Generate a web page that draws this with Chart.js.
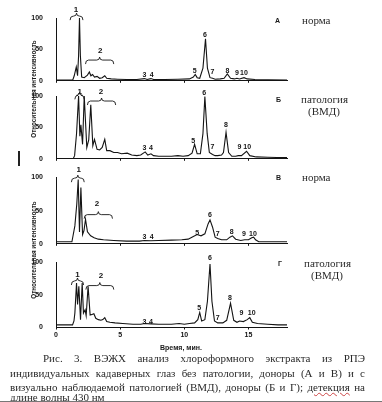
<!DOCTYPE html>
<html><head><meta charset="utf-8">
<script src="https://cdn.jsdelivr.net/npm/chart.js@4.4.1/dist/chart.umd.min.js"></script>
<style>
html,body{margin:0;padding:0;background:#fff;}
body{width:382px;height:402px;position:relative;overflow:hidden;font-family:Arial,"Liberation Sans",sans-serif;color:#1a1a1a;}
.cv{position:absolute;left:20px;}
.t{position:absolute;white-space:nowrap;}
.lbl{font:bold 7px Arial,"Liberation Sans",sans-serif;}
.ser{font-family:"Liberation Serif","Times New Roman",serif;font-size:11px;color:#2a2a2a;}
.ytitle{position:absolute;width:130px;height:8px;line-height:8px;text-align:center;font:bold 6.3px Arial,"Liberation Sans",sans-serif;transform:rotate(-90deg);white-space:nowrap;}
.cap{position:absolute;height:14px;line-height:14px;font-family:"Liberation Serif","Times New Roman",serif;font-size:11px;color:#2a2a2a;text-align:justify;text-align-last:justify;white-space:nowrap;}
</style></head>
<body>
<canvas id="cA" class="cv" width="272" height="90" style="top:0px"></canvas>
<canvas id="cB" class="cv" width="272" height="86" style="top:82px"></canvas>
<canvas id="cV" class="cv" width="272" height="89" style="top:164px"></canvas>
<canvas id="cG" class="cv" width="272" height="96" style="top:248px"></canvas>

<div class="ytitle" style="left:-31px;top:85px;">Относительная интенсивность</div>
<div class="ytitle" style="left:-31px;top:246px;">Относительная интенсивность</div>
<div style="position:absolute;left:18px;top:151px;width:2px;height:15px;background:#222;"></div>

<div class="t lbl" style="left:275px;top:17px;">А</div>
<div class="t ser" style="left:302px;top:14px;">норма</div>
<div class="t lbl" style="left:276px;top:96px;">Б</div>
<div class="t ser" style="left:301px;top:93px;">патология</div>
<div class="t ser" style="left:308px;top:105px;">(ВМД)</div>
<div class="t lbl" style="left:276px;top:174px;">В</div>
<div class="t ser" style="left:302px;top:171px;">норма</div>
<div class="t lbl" style="left:278px;top:260px;">Г</div>
<div class="t ser" style="left:304px;top:257px;">патология</div>
<div class="t ser" style="left:311px;top:269px;">(ВМД)</div>

<div class="t" style="left:160px;top:344px;font:bold 7px Arial,'Liberation Sans',sans-serif;">Время, мин.</div>

<div class="cap" style="left:43px;width:322px;top:351px;">Рис.  3.  ВЭЖХ  анализ  хлороформного  экстракта  из  РПЭ</div>
<div class="cap" style="left:10px;width:355px;top:365.5px;">индивидуальных кадаверных глаз без патологии, доноры (А и В) и с</div>
<div class="cap" style="left:10px;width:355px;top:379.5px;">визуально наблюдаемой патологией (ВМД), доноры (Б и Г); <span style="text-decoration:underline wavy #c44;text-decoration-thickness:1px;">детекция</span> на</div>
<div class="cap" style="left:10px;top:389.5px;text-align:left;text-align-last:left;">длине волны 430 нм</div>
<div style="position:absolute;left:0;top:401px;width:382px;height:1px;background:#777;"></div>

<script>
// ---------- data (time in min, relative intensity) ----------
const yTicks = [0, 50, 100];
const xTicks = [0, 5, 10, 15];

const timeA = [0,1.3,1.42,1.58,1.68,1.76,1.83,1.9,2.0,2.2,2.45,2.6,2.72,2.85,3.0,3.2,3.4,3.6,3.8,3.95,4.3,4.8,5.5,6.3,6.9,7.1,7.4,7.6,8.5,9.5,10.4,10.7,10.85,11.0,11.2,11.45,11.65,11.8,12.0,12.2,12.4,12.8,13.1,13.35,13.6,13.9,14.1,14.3,14.65,14.9,15.5,16.5,18];
const intensityA = [1,1,8,22,8,40,100,40,6,5,9,14,8,10,6,7,4,5,8,4,3,2.5,2,2,3.5,2,3.5,2,2,2.5,3,6,10,5,4,20,67,20,5,4,2.5,3,4,11,4,3,4,3,5,3,2,1.5,1];

const timeB = [0,1.35,1.45,1.6,1.76,1.86,1.94,2.07,2.2,2.4,2.55,2.71,2.87,3.0,3.2,3.4,3.6,3.8,3.95,4.2,4.5,4.8,5.1,5.55,5.9,6.3,6.6,6.95,7.15,7.4,7.6,8.0,8.6,9.0,9.5,9.9,10.3,10.6,10.8,11.0,11.25,11.45,11.6,11.78,11.95,12.2,12.4,12.6,12.9,13.05,13.25,13.45,13.7,14.0,14.2,14.45,14.85,15.1,15.6,16.5,17.2,18];
const intensityB = [0.5,0.5,5,40,100,36,54,23,100,18,30,86,21,31,15,14,18,31,13,13,10,10,8,9,6,5,6,11,6,8,5,4,4,4,5,4,5,9,23,8,8,40,99,40,10,7,5,5,6,10,42,10,4,4,5,5,12,5,3,2.5,2,2];

const timeV = [0,1.24,1.47,1.62,1.73,1.83,1.94,2.07,2.18,2.3,2.45,2.7,2.97,3.3,3.7,4.5,5.5,6.5,6.9,7.4,8,9,9.8,10.3,10.7,11.0,11.3,11.6,11.85,12.0,12.2,12.4,12.6,12.9,13.3,13.55,13.75,14.0,14.4,14.7,15.0,15.25,15.4,15.55,15.8,16.5,18];
const intensityV = [3,3,27,60,97,18,85,14,20,37,18,12,9,7,6,5,4,4,5,4.5,5,5.5,6,7,11,14,12,15,30,36,25,10,8,6,6,10,12,7,5,6,6,9,10,6,3,3,3];

const timeG = [0,1.29,1.4,1.47,1.6,1.68,1.78,1.91,2.04,2.14,2.27,2.35,2.5,2.66,2.8,2.95,3.1,3.3,3.5,3.65,3.8,3.95,4.2,4.6,5.2,6.0,6.6,6.9,7.4,8.0,9.0,9.6,10.0,10.4,10.8,11.05,11.2,11.35,11.6,11.8,12.0,12.15,12.35,12.6,13.0,13.3,13.6,13.85,14.1,14.3,14.6,14.9,15.1,15.3,15.7,16.5,17.3,18];
const intensityG = [4,4,10,22,68,35,63,12,68,22,27,18,63,19,20,21,14,12,11,12,15,9,8,7,6,5,5,6,5.5,5,5,6,5,6,7,12,23,10,12,40,97,40,10,7,7,11,37,11,8,10,9,12,15,8,6,5,4,4];

// peak labels: name, time, level
const peakNames = ['1','2','3','4','5','6','7','8','9','10'];
const labelTimeA = [1.55,3.45,6.9,7.45,10.8,11.6,12.2,13.35,14.1,14.65];
const labelLevelA = [113,47,9,9,16,73,14,16,12,12];
const labelTimeB = [1.85,3.5,6.9,7.4,10.7,11.55,12.2,13.25,14.3,14.9];
const labelLevelB = [107,106,17,17,29,105,18,53,18,18];
const labelTimeV = [1.78,3.2,6.9,7.45,11.0,12.0,12.6,13.7,14.65,15.35];
const labelLevelV = [111,60,10,10,16,44,15,18,14,15];
const labelTimeG = [1.68,3.5,6.9,7.4,11.15,12.0,12.6,13.55,14.45,15.25];
const labelLevelG = [80,79,9,9,30,106,14,45,22,22];

// braces for groups 1 and 2: [start, end, level]
const braceA = [[1.1,2.1,103],[2.3,4.5,33]];
const braceB = [[1.47,2.2,101],[2.45,4.65,92]];
const braceV = [[1.2,2.2,99],[2.2,4.4,44]];
const braceG = [[1.2,2.15,71],[2.33,4.5,64]];

// ---------- drawing ----------
const INK = '#141414';

function drawBrace(ctx, x1, x2, y) {
  const xm = (x1 + x2) / 2;
  ctx.beginPath();
  ctx.moveTo(x1, y + 4);
  ctx.quadraticCurveTo(x1, y, x1 + 3, y);
  ctx.lineTo(xm - 3, y);
  ctx.quadraticCurveTo(xm, y, xm, y - 3);
  ctx.quadraticCurveTo(xm, y, xm + 3, y);
  ctx.lineTo(x2 - 3, y);
  ctx.quadraticCurveTo(x2, y, x2, y + 4);
  ctx.stroke();
}

const annot = {
  id: 'annot',
  afterDatasetsDraw(chart, args, o) {
    const {ctx, scales: {x, y}} = chart;
    ctx.save();
    ctx.fillStyle = INK;
    ctx.strokeStyle = INK;
    ctx.lineWidth = 0.9;
    ctx.textAlign = 'center';
    ctx.textBaseline = 'middle';
    o.times.forEach((t, i) => {
      ctx.font = (i < 2 ? 'bold 8px' : 'bold 7px') + ' Arial, "Liberation Sans", sans-serif';
      ctx.fillText(peakNames[i], x.getPixelForValue(t), y.getPixelForValue(o.levels[i]));
    });
    o.braces.forEach(b => {
      drawBrace(ctx, x.getPixelForValue(b[0]), x.getPixelForValue(b[1]), y.getPixelForValue(b[2]));
    });
    ctx.restore();
  }
};

function panel(id, times, values, lt, ll, braces, padTop, padBottom, showX) {
  return new Chart(document.getElementById(id), {
    type: 'line',
    data: { datasets: [{
      data: times.map((t, i) => ({x: t, y: values[i]})),
      borderColor: INK, borderWidth: 1.1, pointRadius: 0, tension: 0, fill: false, clip: false
    }]},
    options: {
      animation: false, responsive: false, devicePixelRatio: 1,
      layout: { padding: { top: padTop, bottom: padBottom, left: 0, right: 5 } },
      plugins: { legend: {display: false}, tooltip: {enabled: false},
                 annot: { times: lt, levels: ll, braces: braces } },
      scales: {
        x: {
          type: 'linear', min: 0, max: 18,
          afterBuildTicks: s => { s.ticks = xTicks.map(v => ({value: v})); },
          ticks: { display: showX, includeBounds: false, padding: 1, maxRotation: 0, color: INK,
                   font: {family: 'Arial', size: 7, weight: 'bold'} },
          grid: { display: true, drawOnChartArea: false, drawTicks: true, tickLength: 2, color: INK },
          border: { display: true, color: INK, width: 1 },
          afterFit: s => { s.height = showX ? 14 : 0; }
        },
        y: {
          min: 0, max: 100,
          afterBuildTicks: s => { s.ticks = yTicks.map(v => ({value: v})); },
          ticks: { padding: 5, color: INK, font: {family: 'Arial', size: 7, weight: 'bold'} },
          grid: { display: false },
          border: { display: true, color: INK, width: 1 },
          afterFit: s => { s.width = 36; }
        }
      }
    },
    plugins: [annot]
  });
}

panel('cA', timeA, intensityA, labelTimeA, labelLevelA, braceA, 18, 6, false);
panel('cB', timeB, intensityB, labelTimeB, labelLevelB, braceB, 14, 6, false);
panel('cV', timeV, intensityV, labelTimeV, labelLevelV, braceV, 13.5, 6, false);
panel('cG', timeG, intensityG, labelTimeG, labelLevelG, braceG, 14, 2.5, true);
</script>
</body></html>
